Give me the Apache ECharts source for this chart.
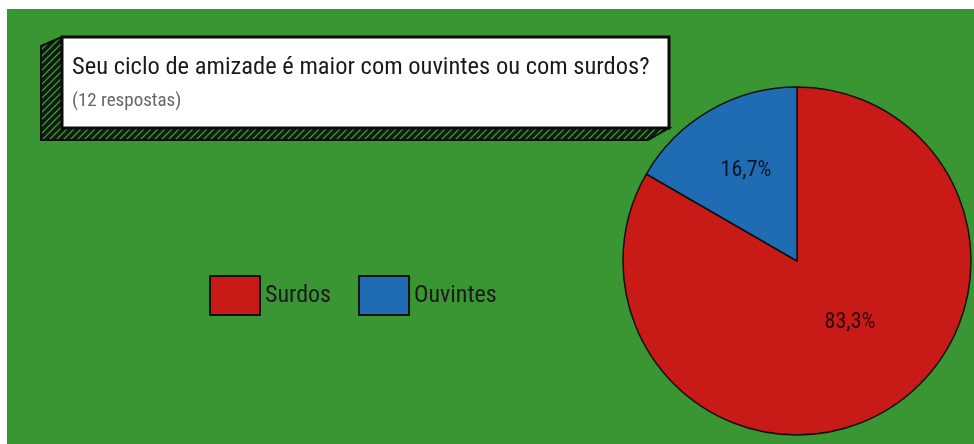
<!DOCTYPE html>
<html>
<head>
<meta charset="utf-8">
<script src="https://cdn.jsdelivr.net/npm/echarts@6/dist/echarts.min.js"></script>
<style>
  html, body { margin: 0; padding: 0; background: #ffffff; }
  #chart { width: 974px; height: 444px; }
</style>
</head>
<body>
<div id="chart"></div>
<script>
// Survey answers: "Seu ciclo de amizade é maior com ouvintes ou com surdos?"
const categories = ['Surdos', 'Ouvintes'];
const responses = [10, 2];
const sliceColors = ['#c81a17', '#1f6cb2'];
const questionText = 'Seu ciclo de amizade é maior com ouvintes ou com surdos?';
const answerCountText = '(12 respostas)';

const FONT = '"Roboto Condensed", "Open Sans", sans-serif';

// Hatched texture for the box's extruded edge
function hatchPattern() {
  const c = document.createElement('canvas');
  c.width = 7; c.height = 7;
  const g = c.getContext('2d');
  g.fillStyle = '#111a10';
  g.fillRect(0, 0, 7, 7);
  g.strokeStyle = '#3fae36';
  g.lineWidth = 1.2;
  g.beginPath();
  g.moveTo(0, 7); g.lineTo(7, 0);
  g.moveTo(-2, 2); g.lineTo(2, -2);
  g.moveTo(5, 9); g.lineTo(9, 5);
  g.stroke();
  return { image: c, repeat: 'repeat' };
}

const chart = echarts.init(document.getElementById('chart'), null, { renderer: 'canvas' });

const total = responses.reduce((a, b) => a + b, 0);
const pieData = categories.map((name, i) => ({
  name: name,
  value: responses[i],
  itemStyle: { color: sliceColors[i] }
}));

// Box geometry for the question panel
const box = { x: 62, y: 37, w: 607, h: 91 };
const depth = { dx: -21, dy: 12 };

chart.setOption({
  backgroundColor: '#ffffff',
  animation: false,
  graphic: [
    { type: 'rect', z: -10, shape: { x: 7, y: 9, width: 967, height: 435 }, style: { fill: '#3a9632' } },
    {
      type: 'polygon', z: 1,
      shape: { points: [
        [box.x, box.y],
        [box.x + depth.dx, box.y + 9],
        [box.x + depth.dx, box.y + box.h + depth.dy],
        [box.x + box.w + depth.dx, box.y + box.h + depth.dy],
        [box.x + box.w, box.y + box.h],
        [box.x, box.y + box.h]
      ] },
      style: { fill: hatchPattern(), stroke: '#0b0f0b', lineWidth: 2 }
    },
    {
      type: 'rect', z: 2,
      shape: { x: box.x, y: box.y, width: box.w, height: box.h },
      style: { fill: '#ffffff', stroke: '#0b0b0b', lineWidth: 3 }
    }
  ],
  title: {
    text: questionText,
    subtext: answerCountText,
    left: 67,
    top: 50,
    itemGap: 12,
    z: 5,
    textStyle: { fontFamily: FONT, fontSize: 24.5, fontWeight: 'normal', color: '#1a1a1a' },
    subtextStyle: { fontFamily: FONT, fontSize: 19, color: '#666666' }
  },
  legend: {
    data: categories,
    left: 204,
    top: 270,
    orient: 'horizontal',
    itemWidth: 50,
    itemHeight: 39,
    itemGap: 27,
    icon: 'rect',
    selectedMode: false,
    textStyle: { fontFamily: FONT, fontSize: 24, color: '#1a1a1a' }
  },
  series: [{
    type: 'pie',
    center: [797, 261],
    radius: 174,
    startAngle: 90,
    clockwise: true,
    silent: true,
    data: pieData,
    itemStyle: { borderColor: '#111111', borderWidth: 1.5 },
    label: {
      show: true,
      position: 'inside',
      fontFamily: FONT,
      fontSize: 22,
      color: 'rgba(0,0,0,0.8)',
      formatter: p => (p.value / total * 100).toFixed(1).replace('.', ',') + '%'
    },
    labelLine: { show: false },
    labelLayout: p => (p.dataIndex === 0 ? { dx: 8, dy: -16 } : { dx: -6, dy: -13 })
  }]
});
</script>
</body>
</html>
